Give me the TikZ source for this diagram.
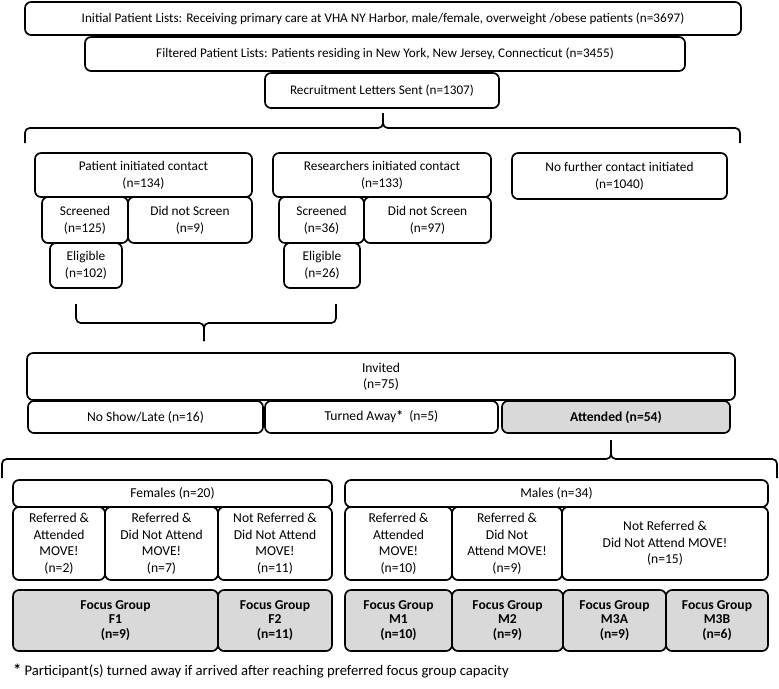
\documentclass[tikz,border=0pt]{standalone}
\usepackage{fontspec}
\setmainfont{Carlito}
\usepackage{tikz}
\definecolor{boxgrey}{HTML}{D9D9D9}

\tikzset{
    box/.style={draw, line width=1.25pt, rounded corners=4.5pt, inner sep=0pt, align=center},
    greybox/.style={box, fill=boxgrey},
    size/.style 2 args={minimum width=#1*0.75pt, minimum height=#2*0.75pt},
    brace/.style={draw, line width=1.25pt, rounded corners=3.5pt},
    toptext/.style={font=\fontsize{9.9}{11.5}\selectfont},
    midtext/.style={font=\fontsize{10}{12.8}\selectfont},
    subtext/.style={font=\fontsize{10.2}{12.4}\selectfont},
    grouptext/.style={font=\fontsize{10.2}{10.6}\selectfont\bfseries}
}

\begin{document}
\begin{tikzpicture}[x=0.75pt,y=-0.75pt]
                \useasboundingbox (0,0) rectangle (779,689);
                \node[box, toptext, size={716}{33}] (initial)
                    at (383,18.5) {Initial Patient Lists: Receiving primary care at VHA NY Harbor, male/female, overweight /obese patients (n=3697)};
                \node[box, toptext, size={600}{34}] (filtered)
                    at (385,54) {Filtered Patient Lists: Patients residing in New York, New Jersey, Connecticut (n=3455)};
                \node[box, toptext, size={234}{35}] (letters)
                    at (382,90.5) {Recruitment Letters Sent (n=1307)};

                \coordinate (b1l) at (25,143);
                \coordinate (b1r) at (740,143);
                \coordinate (b1m) at (383,128);
                \coordinate (b1t) at (383,113);
                \path[brace]
                    (b1l) -- (b1l |- b1m) -- (b1m) -- (b1t);
                \path[brace]
                    (b1t) -- (b1m) -- (b1r |- b1m) -- (b1r);

                \node[box, midtext, size={217}{44}] (patient)
                    at (143.5,175) {Patient initiated contact\\(n=134)};
                \node[box, midtext, size={86}{46}] (pscreen)
                    at (85,220) {Screened\\(n=125)};
                \node[box, midtext, size={124}{46}] (pnoscreen)
                    at (190,220) {Did not Screen\\(n=9)};
                \node[box, midtext, size={72}{45}] (pelig)
                    at (86,265.5) {Eligible\\(n=102)};

                \node[box, midtext, size={218}{44}] (research)
                    at (382,175) {Researchers initiated contact\\(n=133)};
                \node[box, midtext, size={85}{46}] (rscreen)
                    at (321.5,220) {Screened\\(n=36)};
                \node[box, midtext, size={127}{46}] (rnoscreen)
                    at (427.5,220) {Did not Screen\\(n=97)};
                \node[box, midtext, size={76}{45}] (relig)
                    at (322,265.5) {Eligible\\(n=26)};

                \node[box, midtext, size={215}{46}] (nocontact)
                    at (619.5,176) {No further contact initiated\\(n=1040)};

                \coordinate (b2l) at (76,304);
                \coordinate (b2r) at (336,304);
                \coordinate (b2m) at (204,323);
                \coordinate (b2t) at (204,341);
                \path[brace]
                    (b2l) -- (b2l |- b2m) -- (b2m) -- (b2t);
                \path[brace]
                    (b2t) -- (b2m) -- (b2r |- b2m) -- (b2r);

                \node[box, subtext, size={708}{47}] (invited)
                    at (381,376.5) {Invited\\(n=75)};
                \node[box, subtext, size={235}{32}] (noshow)
                    at (145.5,417) {No Show/Late (n=16)};
                \node[box, subtext, size={233}{32}] (turned)
                    at (381.5,417) {Turned Away\textbf{*}\ \ (n=5)};
                \node[greybox, subtext, size={228}{32}] (attended)
                    at (616,417) {\textbf{Attended (n=54)}};

                \coordinate (b3l) at (2,478);
                \coordinate (b3r) at (777,478);
                \coordinate (b3m) at (611,459);
                \coordinate (b3t) at (611,440);
                \path[brace]
                    (b3l) -- (b3l |- b3m) -- (b3m) -- (b3t);
                \path[brace]
                    (b3t) -- (b3m) -- (b3r |- b3m) -- (b3r);

                \node[box, subtext, size={319}{27}] (females)
                    at (172.5,493.5) {Females (n=20)};
                \node[box, subtext, size={92}{73}] (fref)
                    at (59,543.5) {Referred \&\\Attended\\MOVE!\\(n=2)};
                \node[box, subtext, size={113}{73}] (fdid)
                    at (161.5,543.5) {Referred \&\\Did Not Attend\\MOVE!\\(n=7)};
                \node[box, subtext, size={114}{73}] (fnot)
                    at (275,543.5) {Not Referred \&\\Did Not Attend\\MOVE!\\(n=11)};

                \node[box, subtext, size={423}{27}] (males)
                    at (556.5,493.5) {Males (n=34)};
                \node[box, subtext, size={107}{73}] (mref)
                    at (398.5,543.5) {Referred \&\\Attended\\MOVE!\\(n=10)};
                \node[box, subtext, size={110}{73}] (mdid)
                    at (507,543.5) {Referred \&\\Did Not\\Attend MOVE!\\(n=9)};
                \node[box, subtext, size={206}{73}] (mnot)
                    at (665,543.5) {Not Referred \&\\Did Not Attend MOVE!\\(n=15)};

                \node[greybox, grouptext, size={205}{61}] (fgf1)
                    at (115.5,620.5) {Focus Group\\F1\\(n=9)};
                \node[greybox, grouptext, size={114}{61}] (fgf2)
                    at (275,620.5) {Focus Group\\F2\\(n=11)};
                \node[greybox, grouptext, size={107}{61}] (fgm1)
                    at (398.5,620.5) {Focus Group\\M1\\(n=10)};
                \node[greybox, grouptext, size={111}{61}] (fgm2)
                    at (507.5,620.5) {Focus Group\\M2\\(n=9)};
                \node[greybox, grouptext, size={103}{61}] (fgm3a)
                    at (614.5,620.5) {Focus Group\\M3A\\(n=9)};
                \node[greybox, grouptext, size={102}{61}] (fgm3b)
                    at (717,620.5) {Focus Group\\M3B\\(n=6)};

                \node[anchor=west, inner sep=0pt, font=\fontsize{11}{13}\selectfont] (note)
                    at (13,671) {{\large\textbf{*}} Participant(s) turned away if arrived after reaching preferred focus group capacity};
\end{tikzpicture}
\end{document}
